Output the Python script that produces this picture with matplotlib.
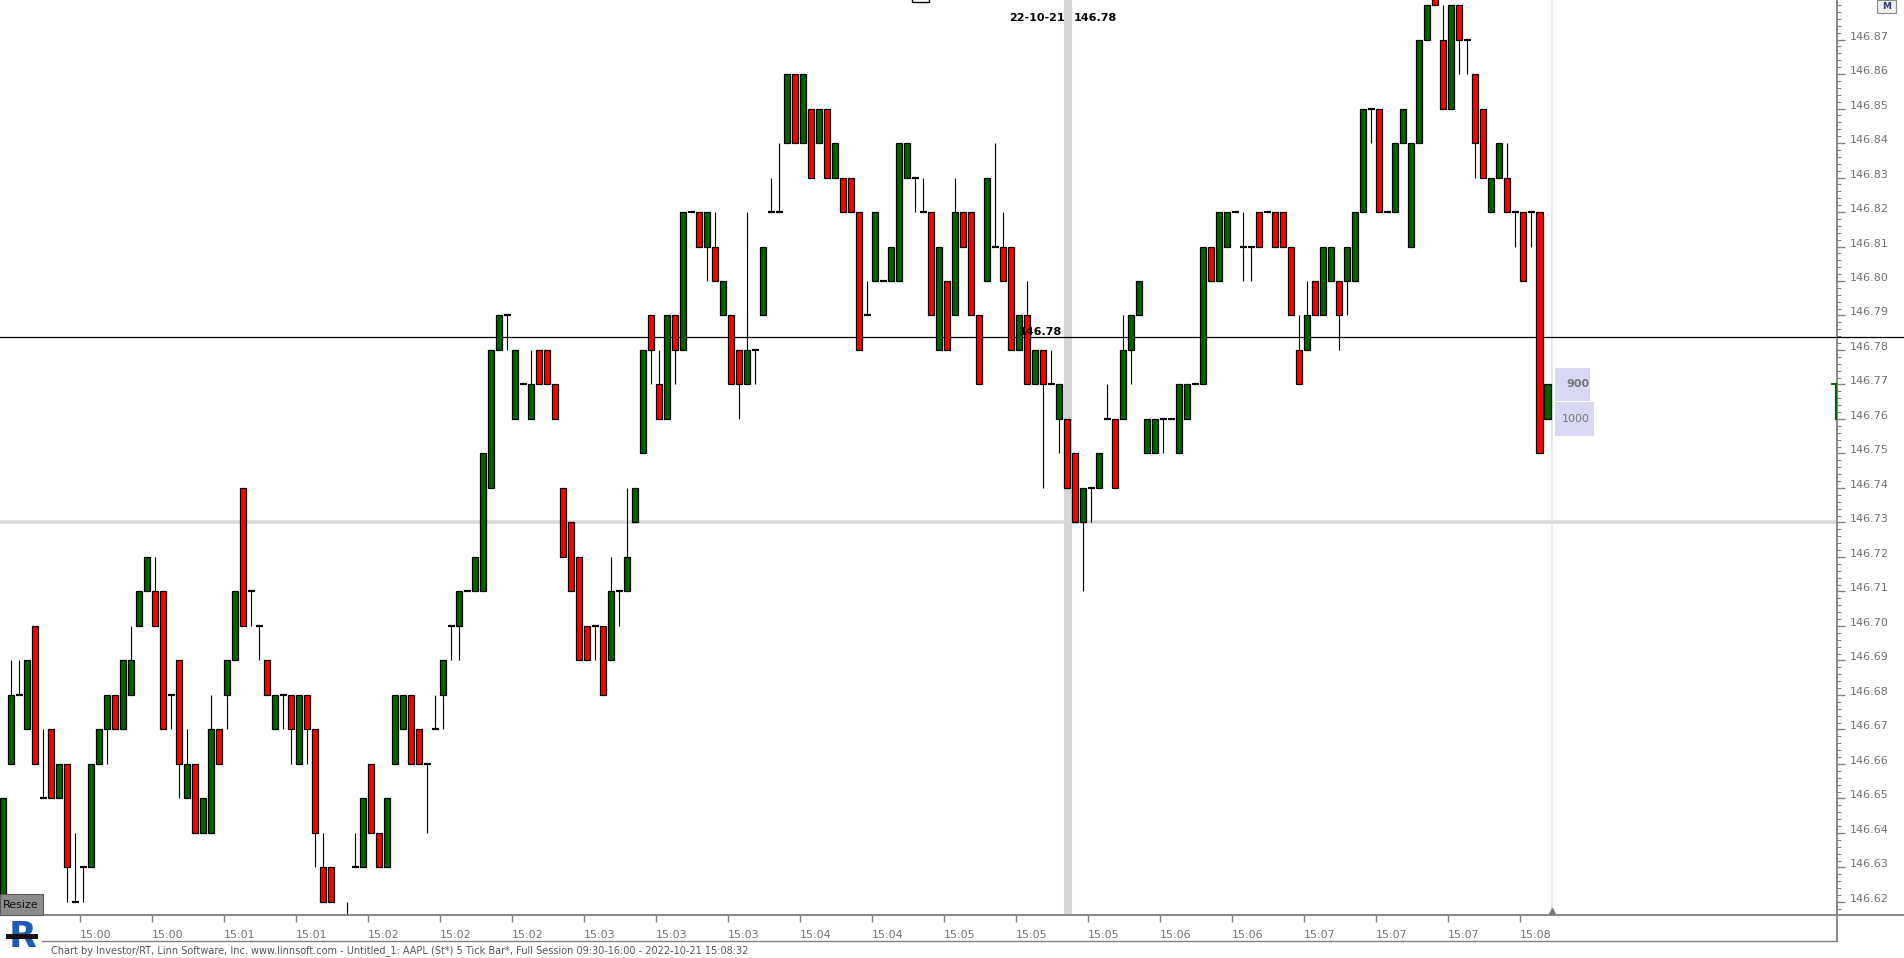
import numpy as np
import matplotlib
matplotlib.use("Agg")
import matplotlib.pyplot as plt
from matplotlib.lines import Line2D
from matplotlib.patches import Rectangle
from matplotlib.ticker import MultipleLocator

W, H = 1904, 958

# AAPL 5 tick bars, price = base + cents / 100
base = 146.60
open_c = [
    2, 6, 8, 7, 10, 5, 7, 5, 6, 2,
    3, 3, 6, 7, 8, 7, 8, 10, 11, 11,
    11, 8, 9, 5, 6, 4, 4, 7, 8, 9,
    14, 11, 10, 9, 7, 8, 8, 6, 8, 7,
    3, 3, 1, 1, 3, 3, 6, 4, 3, 6,
    7, 8, 7, 6, 7, 8, 10, 10, 11, 11,
    11, 14, 18, 19, 16, 17, 16, 18, 18, 17,
    14, 13, 12, 10, 10, 10, 9, 11, 11, 13,
    15, 19, 17, 16, 19, 18, 22, 22, 21, 21,
    19, 19, 18, 17, 18, 19, 22, 22, 24, 26,
    24, 25, 24, 25, 23, 23, 23, 22, 19, 20,
    20, 20, 20, 23, 23, 22, 22, 18, 20, 19,
    22, 22, 19, 20, 21, 21, 21, 18, 19, 17,
    18, 17, 16, 16, 15, 13, 14, 14, 16, 16,
    16, 18, 19, 15, 15, 16, 16, 15, 16, 17,
    17, 21, 20, 21, 22, 21, 21, 22, 22, 22,
    22, 21, 18, 18, 20, 19, 20, 20, 20, 20,
    22, 25, 25, 22, 22, 24, 21, 24, 27, 29,
    27, 25, 28, 27, 26, 25, 22, 23, 23, 22,
    22, 22, 22, 16,
]
high_c = [
    5, 9, 9, 9, 10, 7, 7, 6, 6, 4,
    3, 6, 7, 8, 8, 9, 10, 11, 12, 12,
    11, 8, 9, 7, 6, 5, 8, 7, 9, 11,
    14, 11, 10, 9, 8, 8, 8, 8, 8, 7,
    4, 3, 1, 2, 4, 5, 6, 4, 5, 8,
    8, 8, 7, 6, 8, 9, 10, 11, 11, 12,
    15, 18, 19, 19, 18, 17, 18, 18, 18, 17,
    14, 13, 12, 10, 10, 10, 12, 11, 14, 14,
    18, 19, 18, 19, 19, 22, 22, 22, 22, 22,
    20, 19, 18, 22, 18, 21, 23, 24, 26, 26,
    26, 25, 25, 25, 24, 23, 23, 22, 20, 22,
    20, 21, 24, 24, 23, 23, 22, 21, 20, 23,
    22, 22, 19, 23, 24, 22, 21, 19, 20, 18,
    18, 18, 17, 16, 15, 14, 14, 15, 17, 16,
    19, 19, 20, 16, 16, 16, 16, 17, 17, 17,
    21, 21, 22, 22, 22, 22, 21, 22, 22, 22,
    22, 21, 19, 20, 20, 21, 21, 20, 21, 22,
    25, 25, 25, 22, 24, 25, 24, 27, 28, 29,
    28, 28, 28, 27, 26, 25, 23, 24, 24, 22,
    22, 22, 22, 17,
]
low_c = [
    2, 6, 8, 7, 6, 5, 5, 5, 2, 2,
    2, 3, 6, 6, 7, 7, 8, 10, 11, 10,
    7, 7, 5, 5, 4, 4, 4, 6, 7, 9,
    10, 10, 9, 8, 7, 7, 6, 6, 6, 3,
    2, 2, 1, 1, 3, 3, 4, 3, 3, 6,
    7, 6, 6, 4, 7, 7, 9, 9, 11, 11,
    11, 14, 18, 18, 16, 17, 16, 17, 17, 16,
    12, 11, 9, 9, 9, 8, 9, 10, 11, 13,
    15, 17, 16, 16, 17, 18, 22, 21, 20, 20,
    19, 17, 16, 17, 17, 19, 22, 22, 24, 24,
    24, 23, 24, 23, 23, 22, 22, 18, 19, 20,
    20, 20, 20, 23, 22, 22, 19, 18, 18, 19,
    21, 19, 17, 20, 21, 20, 18, 18, 17, 17,
    14, 17, 15, 14, 13, 11, 13, 14, 16, 14,
    16, 17, 19, 15, 15, 15, 16, 15, 16, 17,
    17, 20, 20, 21, 22, 20, 20, 21, 22, 21,
    21, 19, 17, 18, 19, 19, 20, 18, 19, 20,
    22, 24, 22, 22, 22, 24, 21, 24, 27, 28,
    25, 25, 26, 26, 23, 23, 22, 23, 22, 21,
    20, 21, 15, 16,
]
close_c = [
    5, 8, 8, 9, 6, 5, 5, 6, 3, 2,
    3, 6, 7, 8, 7, 9, 9, 11, 12, 10,
    7, 8, 6, 6, 4, 5, 7, 6, 9, 11,
    10, 11, 10, 8, 8, 8, 7, 8, 7, 4,
    2, 2, 1, 1, 3, 5, 4, 3, 5, 8,
    8, 6, 6, 6, 7, 9, 10, 11, 11, 12,
    15, 18, 19, 19, 18, 17, 17, 17, 17, 16,
    12, 11, 9, 9, 10, 8, 11, 11, 12, 14,
    18, 18, 16, 19, 18, 22, 22, 21, 22, 20,
    20, 17, 17, 18, 18, 21, 22, 22, 26, 24,
    26, 23, 25, 23, 24, 22, 22, 18, 19, 22,
    20, 21, 24, 24, 23, 22, 19, 21, 18, 22,
    21, 19, 17, 23, 21, 20, 18, 19, 17, 18,
    17, 17, 17, 14, 13, 14, 14, 15, 16, 14,
    18, 19, 20, 16, 16, 16, 16, 17, 17, 17,
    21, 20, 22, 22, 22, 21, 21, 21, 22, 21,
    21, 19, 17, 19, 19, 21, 21, 19, 21, 22,
    25, 25, 22, 22, 24, 25, 24, 27, 28, 28,
    25, 28, 27, 27, 24, 23, 23, 24, 22, 22,
    20, 22, 15, 17,
]

time_labels = ["15:00", "15:00", "15:01", "15:01", "15:02", "15:02", "15:02",
               "15:03", "15:03", "15:03", "15:04", "15:04", "15:05", "15:05",
               "15:05", "15:06", "15:06", "15:07", "15:07", "15:07", "15:08"]
ytick_prices = [146.62, 146.63, 146.64, 146.65, 146.66, 146.67, 146.68, 146.69,
                146.70, 146.71, 146.72, 146.73, 146.74, 146.75, 146.76, 146.77,
                146.78, 146.79, 146.80, 146.81, 146.82, 146.83, 146.84, 146.85,
                146.86, 146.87]
vol_prices = [146.77, 146.76]
vol_sizes = [900, 1000]
cross_price = 146.7838
cross_bar = 133.1
cross_date = "22-10-21"
mark_price = 146.73
footer = ("Chart by Investor/RT, Linn Software, Inc. www.linnsoft.com - Untitled_1: "
          "AAPL (St*) 5 Tick Bar*, Full Session 09:30-16:00 - 2022-10-21 15:08:32")

GREEN = "#006400"
RED = "#ff0000"
GRID = "#808080"


def fx(px):
    return px / W


def fy(py):
    return 1 - py / H


o = base + np.array(open_c) / 100
h = base + np.array(high_c) / 100
l = base + np.array(low_c) / 100
c = base + np.array(close_c) / 100
oc = np.array(open_c)
cc = np.array(close_c)
x = np.arange(len(o))
up = cc > oc
dn = cc < oc
dj = cc == oc

fig = plt.figure(figsize=(W / 100, H / 100), dpi=100)
fig.patch.set_facecolor("white")
ax = fig.add_axes([0, fy(915), fx(1837), 915 / H])
ax.set_facecolor("white")
ax.set_xlim(-0.41, 229.2)
ax.set_ylim(146.61623, 146.88145)
for s in ax.spines.values():
    s.set_visible(False)

# crosshair and marker lines
ax.axvline(cross_bar, color="#d6d6d6", lw=5.8, zorder=1)
ax.axhline(mark_price, color="#d9d9d9", lw=2.6, zorder=1)
ax.axhline(cross_price, color="black", lw=0.9, zorder=2)
ax.axvline(len(o) - 1 + 0.55, color="#e2e2e2", lw=1.1, zorder=1)
ax.plot([len(o) - 1 + 0.55], [146.6175], marker="^", ms=4, color="#777777",
        clip_on=False, zorder=5)

# candles
ax.vlines(x, l, h, color="black", lw=0.8, zorder=3)
ax.bar(x[up], (c - o)[up], bottom=o[up], width=0.78, color=GREEN,
       edgecolor="black", linewidth=0.9, zorder=4)
ax.bar(x[dn], (o - c)[dn], bottom=c[dn], width=0.78, color=RED,
       edgecolor="black", linewidth=0.9, zorder=4)
ax.hlines(o[dj], x[dj] - 0.42, x[dj] + 0.42, color="black", lw=1.6, zorder=4)

# volume at price boxes for the last bar
for p, v in zip(vol_prices, vol_sizes):
    wbox = v * 0.004875
    ax.add_patch(Rectangle((len(o) - 1 + 0.96, p - 0.0048), wbox, 0.0096,
                           facecolor="#d8d8f5", edgecolor="none", zorder=3))
    ax.text(len(o) - 1 + 0.96 + 4.35, p, str(v), ha="right", va="center",
            fontsize=8, color="#777777",
            fontweight="bold" if v == vol_sizes[0] else "normal", zorder=6)

# crosshair labels
ax.text(cross_bar - 0.75, cross_price, "%.2f" % round(cross_price, 2),
        ha="right", va="bottom", fontsize=8, fontweight="bold", zorder=6)
ax.text(cross_bar - 0.4, 1 - 18 / 915, cross_date,
        transform=ax.get_xaxis_transform(), ha="right", va="center",
        fontsize=8, fontweight="bold", zorder=6)
ax.text(cross_bar + 0.75, 1 - 18 / 915, "%.2f" % round(cross_price, 2),
        transform=ax.get_xaxis_transform(), ha="left", va="center",
        fontsize=8, fontweight="bold", zorder=6)

# axes ticks
ax.yaxis.tick_right()
ax.set_yticks(ytick_prices, ["%.2f" % p for p in ytick_prices])
ax.yaxis.set_minor_locator(MultipleLocator(0.002))
ax.tick_params(axis="y", which="major", length=6, width=1, color=GRID,
               labelsize=8, labelcolor="#707070", pad=3)
ax.tick_params(axis="y", which="minor", length=3, width=0.8, color=GRID)
for lbl in ax.get_yticklabels():
    lbl.set_va("baseline")

tick_pos = [9.6 + 9 * k for k in range(len(time_labels))]
ax.set_xticks(tick_pos, time_labels)
ax.tick_params(axis="x", length=5, width=1, color=GRID, labelsize=8,
               labelcolor="#707070", pad=6)
for lbl in ax.get_xticklabels():
    lbl.set_ha("left")


# frame lines drawn in figure pixels
def fline(x0, y0, x1, y1, **kw):
    fig.add_artist(Line2D([fx(x0), fx(x1)], [fy(y0), fy(y1)], **kw))


fline(0, 915, W, 915, color=GRID, lw=1.3, zorder=3)
fline(1837, 0, 1837, 941, color=GRID, lw=1.3, zorder=3)
fline(42, 941, 1837, 941, color=GRID, lw=1.0, zorder=3)
fline(1837, 337, W, 337, color="black", lw=0.9, zorder=3)

# last bar marker on the price axis
yb = ax.transData.transform((0, o[-1]))[1]
yt = ax.transData.transform((0, c[-1]))[1]
fig.add_artist(Line2D([fx(1835.5), fx(1835.5)], [yb / H, yt / H],
                      color=GREEN, lw=1.6, zorder=4))
fig.add_artist(Line2D([fx(1832), fx(1836)], [yt / H, yt / H],
                      color=GREEN, lw=1.4, zorder=4))

# resize button, M button, logo, footer
fig.add_artist(Rectangle((fx(0), fy(915)), fx(43), 21 / H, facecolor="#8c8c8c",
                         edgecolor="#5a5a5a", lw=0.8, zorder=5))
fig.text(fx(3), fy(905), "Resize", fontsize=8, color="#111111", va="center",
         zorder=6)
fig.add_artist(Rectangle((fx(1877), fy(13)), fx(19), 13 / H, facecolor="#eeeeee",
                         edgecolor="#888888", lw=0.8, zorder=5))
fig.text(fx(1886.5), fy(6.5), "M", fontsize=6.5, fontweight="bold",
         color="#2a3a6a", ha="center", va="center", zorder=6)
fig.add_artist(Rectangle((fx(912), fy(2)), fx(17), 4 / H, facecolor="none",
                         edgecolor="black", lw=1.0, zorder=5))
fig.text(fx(9), fy(937), "R", fontsize=26, fontweight="bold", color="#1f5bb5",
         va="center", ha="left", zorder=6)
fig.add_artist(Rectangle((fx(6), fy(939)), fx(32), 5 / H, facecolor="#111111",
                         edgecolor="none", zorder=7))
fig.text(fx(51), fy(951), footer, fontsize=7, color="#555555", va="center")

fig.savefig("out.png", dpi=100)
